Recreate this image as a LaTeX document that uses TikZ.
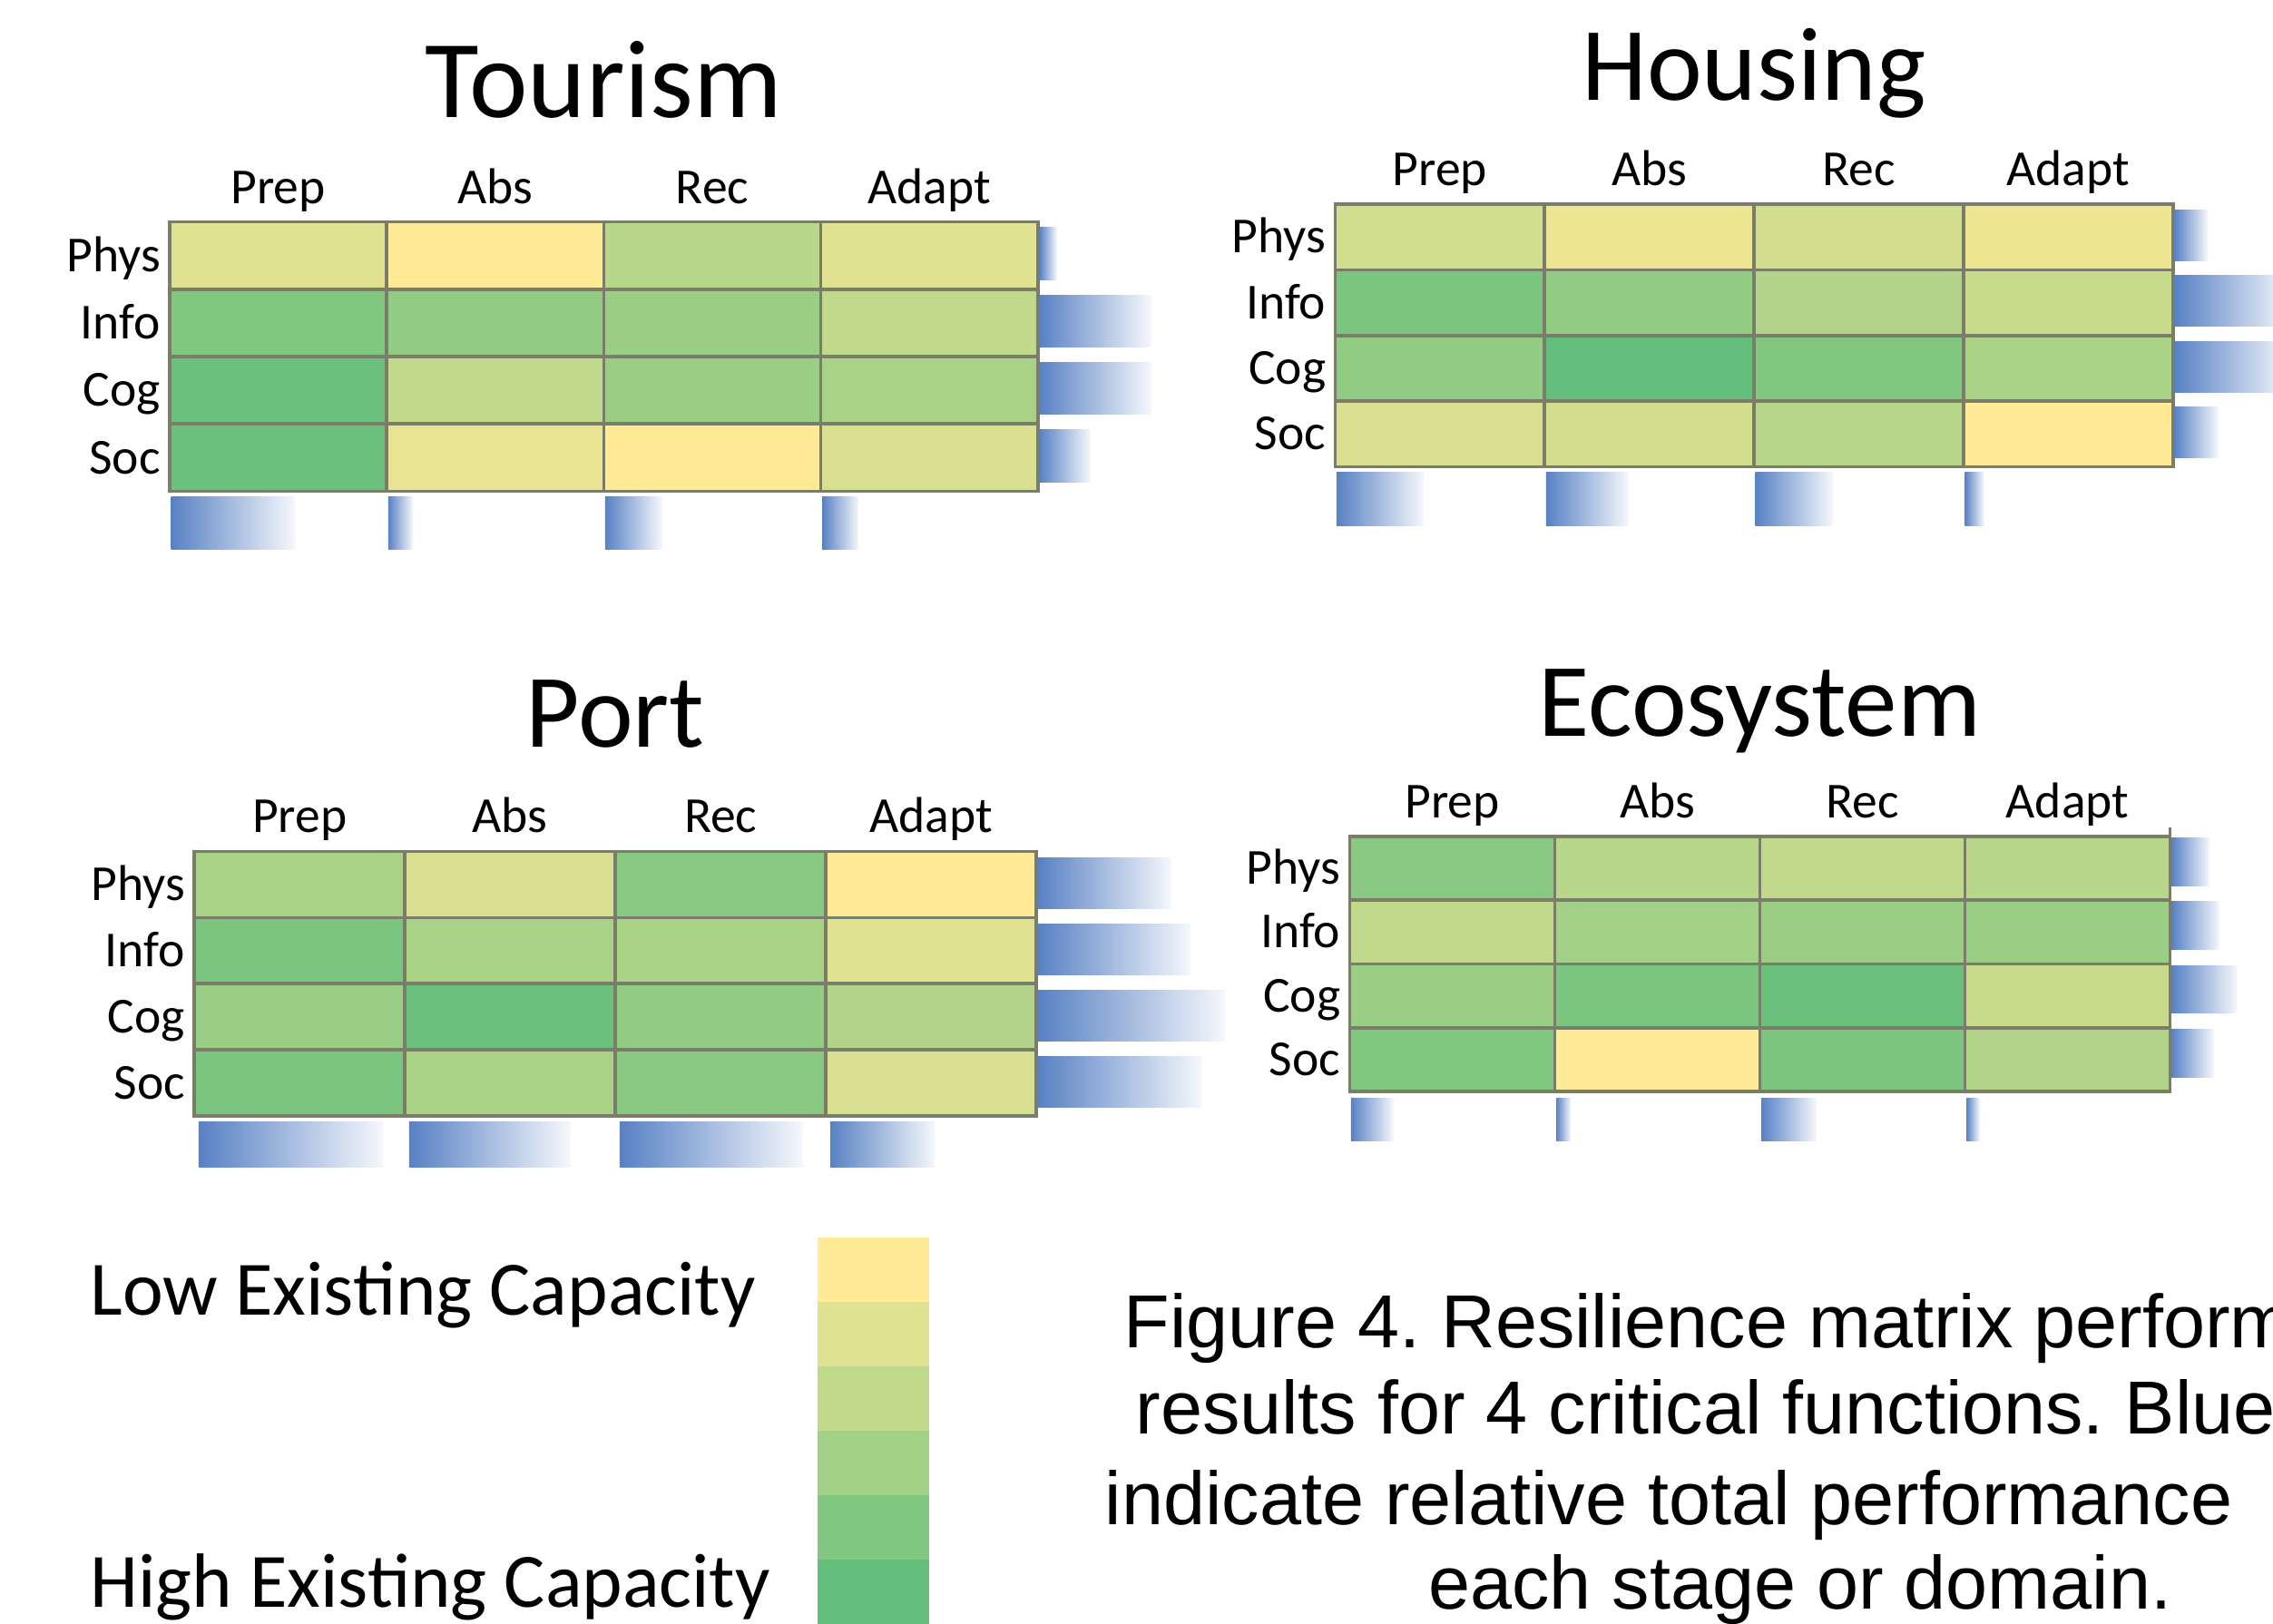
\documentclass[tikz,border=0pt]{standalone}
\usepackage{fontspec}
\setmainfont{Carlito}
\newfontfamily\capfont{Liberation Sans}
\definecolor{capgreen}{RGB}{99,190,123}
\definecolor{capyellow}{RGB}{255,235,150}
\definecolor{gridgray}{RGB}{122,126,104}
\definecolor{barblue}{RGB}{88,129,196}
\frenchspacing

\begin{document}
\begin{tikzpicture}[x=0.02cm, y=-0.02cm,
    title/.style={font=\fontsize{41}{48}\selectfont, anchor=base, inner sep=0},
    collab/.style={font=\fontsize{19.8}{23}\selectfont, anchor=base, inner sep=0},
    rowlab/.style={font=\fontsize{19.8}{23}\selectfont, anchor=base east, inner sep=0},
    legendlab/.style={font=\fontsize{30.2}{36}\selectfont, anchor=base west, inner sep=0},
    caplab/.style={font=\capfont\fontsize{29.5}{35}\selectfont, anchor=base west, inner sep=0},
    cell/.style={draw=gridgray, line width=1.3pt},
    databar/.style={left color=barblue, right color=barblue!6}]
    \useasboundingbox (0,0) rectangle (1568,1120);
    \clip (0,0) rectangle (1568,1120);

    % tourism
    \begin{scope}[shift={(117,153)}]
        \foreach \r/\vals in {0/{80,100,55,80}, 1/{20,30,35,60}, 2/{5,60,35,45}, 3/{5,85,100,75}}
            \foreach \p [count=\c from 0] in \vals
                \filldraw[cell, fill=capyellow!\p!capgreen] ({\c*149.75},{\r*46.5}) rectangle ++(149.75,46.5);
        \foreach \r/\len in {0/12, 1/77, 2/77, 3/35}
            \shade[databar] (600,{\r*46.5+4}) rectangle ++(\len,36);
        \foreach \c/\len in {0/85, 1/17, 2/39, 3/25}
            \shade[databar] ({\c*149.75+1},190) rectangle ++(\len,36);
        \node[title, font=\fontsize{43.5}{50}\selectfont] (tourism) at (299.5,-72) {Tourism};
        \foreach \lab [count=\c from 0] in {Prep,Abs,Rec,Adapt}
            \node[collab] (tourism-\lab) at ({(\c+0.5)*149.75},-12.5) {\lab};
        \foreach \lab [count=\r from 0] in {Phys,Info,Cog,Soc}
            \node[rowlab] (tourism-\lab) at (-6,{(\r+0.5)*46.5+11}) {\lab};
    \end{scope}

    % housing
    \begin{scope}[shift={(921,141)}]
        \foreach \r/\vals in {0/{70,88,72,90}, 1/{15,30,50,65}, 2/{30,0,20,45}, 3/{75,72,55,100}}
            \foreach \p [count=\c from 0] in \vals
                \filldraw[cell, fill=capyellow!\p!capgreen] ({\c*144.5},{\r*45.25}) rectangle ++(144.5,45.25);
        \foreach \r/\len in {0/23, 1/80, 2/80, 3/30}
            \shade[databar] (579,{\r*45.25+4}) rectangle ++(\len,35);
        \foreach \c/\len in {0/60, 1/57, 2/53, 3/13}
            \shade[databar] ({\c*144.5+1},185) rectangle ++(\len,37);
        \node[title] (housing) at (289,-72) {Housing};
        \foreach \lab [count=\c from 0] in {Prep,Abs,Rec,Adapt}
            \node[collab] (housing-\lab) at ({(\c+0.5)*144.5},-13) {\lab};
        \foreach \lab [count=\r from 0] in {Phys,Info,Cog,Soc}
            \node[rowlab] (housing-\lab) at (-6,{(\r+0.5)*45.25+11}) {\lab};
    \end{scope}

    % port
    \begin{scope}[shift={(134,587.5)}]
        \foreach \r/\vals in {0/{45,75,25,100}, 1/{15,45,45,80}, 2/{35,5,30,50}, 3/{15,45,25,75}}
            \foreach \p [count=\c from 0] in \vals
                \filldraw[cell, fill=capyellow!\p!capgreen] ({\c*145.25},{\r*45.6}) rectangle ++(145.25,45.6);
        \foreach \r/\len in {0/92, 1/105, 2/129, 3/113}
            \shade[databar] (582,{\r*45.6+4.5}) rectangle ++(\len,35);
        \foreach \c/\len in {0/127, 1/111, 2/126, 3/72}
            \shade[databar] ({\c*145.25+3},186.5) rectangle ++(\len,31);
        \node[title] (port) at (290.5,-72) {Port};
        \foreach \lab [count=\c from 0] in {Prep,Abs,Rec,Adapt}
            \node[collab] (port-\lab) at ({(\c+0.5)*145.25},-13.5) {\lab};
        \foreach \lab [count=\r from 0] in {Phys,Info,Cog,Soc}
            \node[rowlab] (port-\lab) at (-6,{(\r+0.5)*45.6+11}) {\lab};
    \end{scope}

    % ecosystem
    \begin{scope}[shift={(931,577)}]
        \foreach \r/\vals in {0/{25,55,60,55}, 1/{60,40,35,35}, 2/{35,15,5,65}, 3/{20,100,15,50}}
            \foreach \p [count=\c from 0] in \vals
                \filldraw[cell, fill=capyellow!\p!capgreen] ({\c*141.5},{\r*44}) rectangle ++(141.5,44);
        \draw[cell] (566,-6) -- (566,0);
        \foreach \r/\len in {0/26, 1/33, 2/45, 3/29}
            \shade[databar] (567,{\r*44+1}) rectangle ++(\len,33);
        \foreach \c/\len in {0/29, 1/10, 2/38, 3/9}
            \shade[databar] ({\c*141.5+1},181) rectangle ++(\len,29);
        \node[title] (ecosystem) at (283,-69) {Ecosystem};
        \foreach \lab [count=\c from 0] in {Prep,Abs,Rec,Adapt}
            \node[collab] (ecosystem-\lab) at ({(\c+0.5)*141.5},-12.5) {\lab};
        \foreach \lab [count=\r from 0] in {Phys,Info,Cog,Soc}
            \node[rowlab] (ecosystem-\lab) at (-6,{(\r+0.5)*44+11}) {\lab};
    \end{scope}

    % legend
    \foreach \p [count=\i from 0] in {100,80,60,40,20,0}
        \fill[capyellow!\p!capgreen] (564,{854+\i*44.4}) rectangle ++(77,44.4);
    \node[legendlab] (low) at (62,907) {Low Existing Capacity};
    \node[legendlab] (high) at (62,1109) {High Existing Capacity};

    % caption
    \node[caplab] (cap1) at (775,930) {Figure 4. Resilience matrix performance};
    \node[caplab] (cap2) at (783,989) {results for 4 critical functions. Blue};
    \node[caplab] (cap3) at (762,1052) {indicate relative total performance};
    \node[caplab] (cap4) at (985,1110) {each stage or domain.};
\end{tikzpicture}
\end{document}
